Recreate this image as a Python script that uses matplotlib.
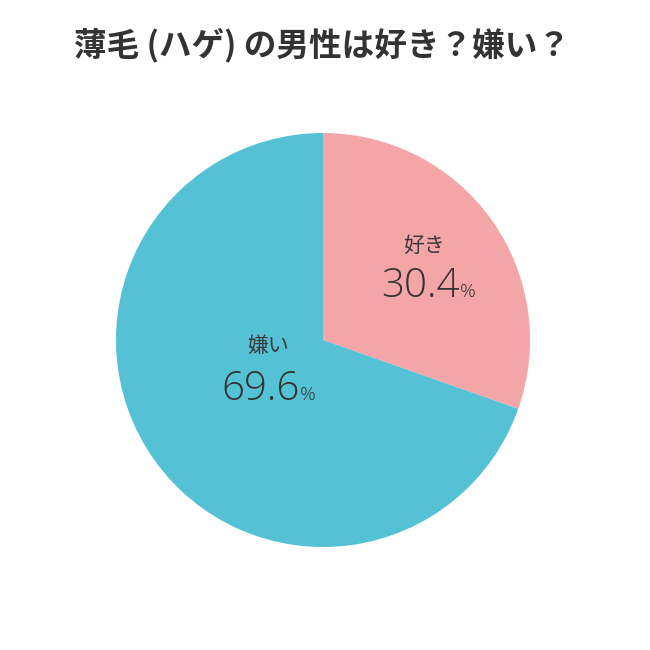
import matplotlib
matplotlib.use('Agg')
import matplotlib.pyplot as plt

plt.rcParams['font.family'] = ['Noto Sans CJK JP', 'DejaVu Sans']

title = '薄毛 (ハゲ) の男性は好き？嫌い？'
labels = ['好き', '嫌い']
values = [30.4, 69.6]
colors = ['#F3A5A8', '#55C1D5']

fig = plt.figure(figsize=(6.5, 6.5), dpi=100)
fig.patch.set_facecolor('white')

# pie centre (323, 340) px, radius 207 px
cx, cy, r = 323 / 650, 1 - 340 / 650, 207 / 650
ax = fig.add_axes([cx - r, cy - r, 2 * r, 2 * r])
ax.pie(values, colors=colors, startangle=90, counterclock=False, radius=1,
       wedgeprops={'linewidth': 0})
ax.set_xlim(-1, 1)
ax.set_ylim(-1, 1)
ax.set_aspect('equal')
ax.axis('off')

# label / number anchor points in data coords
label_pos = [(0.488, 0.454), (-0.266, -0.029)]
num_pos = [(0.662, 0.208), (-0.111, -0.290)]

num_font = ['Open Sans', 'DejaVu Sans']
for lab, val, lp, npos in zip(labels, values, label_pos, num_pos):
    ax.text(lp[0], lp[1], lab, ha='center', va='center', fontsize=15,
            color='#3a3a3a')
    ax.text(npos[0], npos[1], f'{val:.1f}', ha='right', va='baseline',
            fontsize=29, color='#333333', family=num_font, fontweight=300)
    ax.text(npos[0], npos[1], '%', ha='left', va='baseline',
            fontsize=14, color='#333333', family=num_font, fontweight=300)

fig.text(0.495, 1 - 45 / 650, title, ha='center', va='center', fontsize=23.5,
         fontweight='bold', color='#333333')

fig.savefig('out.png', dpi=100, facecolor='white')
